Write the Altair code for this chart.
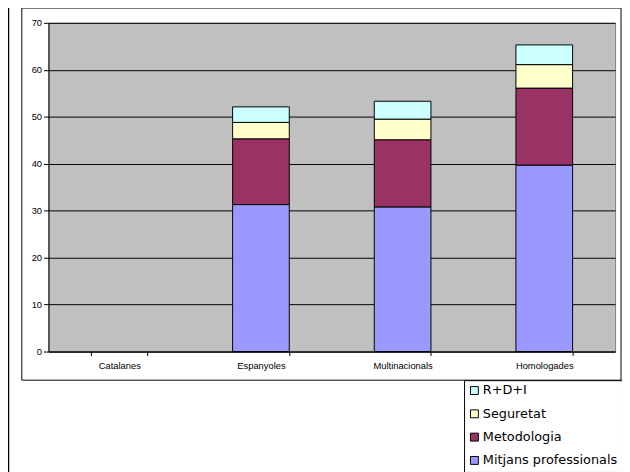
import altair as alt
import pandas as pd

categories = ["Catalanes", "Espanyoles", "Multinacionals", "Homologades"]
series_names = ["Mitjans professionals", "Metodologia", "Seguretat", "R+D+I"]
mitjans = [0, 31.3, 30.8, 39.7]
metodologia = [0, 14.0, 14.3, 16.4]
seguretat = [0, 3.5, 4.4, 5.0]
rdi = [0, 3.3, 3.8, 4.2]
series_colors = ["#9999FF", "#993366", "#FFFFCC", "#CCFFFF"]
y_ticks = [0, 10, 20, 30, 40, 50, 60, 70]

series_values = [mitjans, metodologia, seguretat, rdi]
rows = []
for si, (name, vals) in enumerate(zip(series_names, series_values)):
    for cat, v in zip(categories, vals):
        if v > 0:
            rows.append({"cat": cat, "serie": name, "val": v, "ord": si})
df = pd.DataFrame(rows)

FONT = "Liberation Sans"

bars = alt.Chart(df).mark_bar(stroke="black", strokeWidth=1).encode(
    x=alt.X("cat:N", sort=categories,
            scale=alt.Scale(domain=categories, paddingInner=0.6, paddingOuter=0.3),
            axis=alt.Axis(title=None, labelAngle=0, tickBand="extent", grid=False,
                          labelPadding=5, tickSize=4)),
    y=alt.Y("val:Q", stack="zero",
            scale=alt.Scale(domain=[0, 70], nice=False),
            axis=alt.Axis(title=None, values=y_ticks, grid=True, tickSize=5, labelPadding=2)),
    color=alt.Color("serie:N",
                    scale=alt.Scale(domain=list(reversed(series_names)),
                                    range=list(reversed(series_colors))),
                    legend=alt.Legend(title=None, orient="none", legendX=421, legendY=362,
                                      symbolType="square", symbolSize=64,
                                      symbolStrokeColor="black", symbolStrokeWidth=1,
                                      labelFont="DejaVu Sans", labelFontSize=13,
                                      labelColor="black", labelOffset=2, labelLimit=300,
                                      rowPadding=9.6, padding=4,
                                      strokeColor="black", fillColor="white")),
    order=alt.Order("ord:Q", sort="ascending"),
)

frame_df = pd.DataFrame({"k": [0]})
outer_box = alt.Chart(frame_df).mark_rect(fill=None, stroke="black", strokeWidth=1).encode(
    x=alt.value(-27), x2=alt.value(580), y=alt.value(-15), y2=alt.value(362)
)
left_rule = alt.Chart(frame_df).mark_rule(color="black", strokeWidth=1.5).encode(
    x=alt.value(-40.5), y=alt.value(-15), y2=alt.value(460)
)

chart = alt.layer(outer_box, left_rule, bars).properties(
    width=574, height=333,
    autosize=alt.AutoSizeParams(type="none"),
    padding={"left": 41, "top": 12, "right": 7, "bottom": 119},
    background="white",
).configure_view(
    fill="#C0C0C0", stroke="#808080", strokeWidth=1
).configure_axis(
    labelFont=FONT, labelFontSize=9.5, labelColor="black",
    tickColor="black", domainColor="black", gridColor="black", gridOpacity=1,
    gridWidth=1, domainWidth=1, tickWidth=1
)

chart.save("out.html", embed_options={"renderer": "svg", "actions": False})
